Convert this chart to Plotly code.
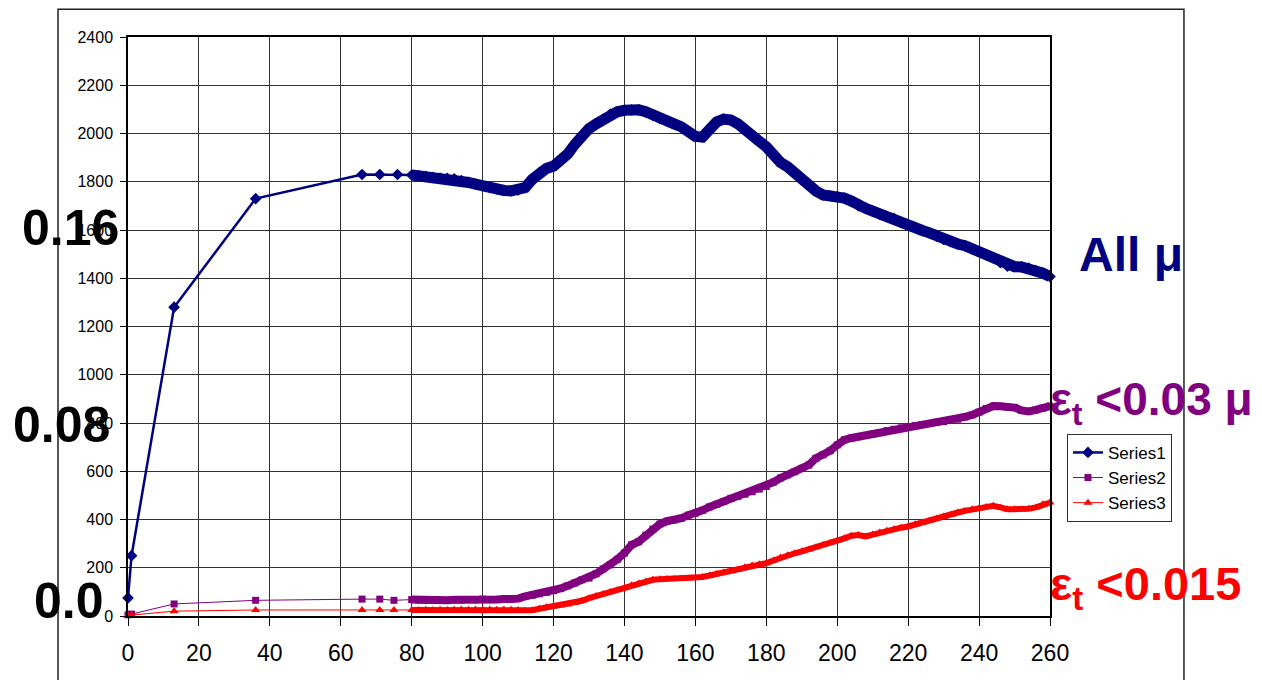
import plotly.graph_objects as go

# ---- data ----
early_x1 = [0, 1, 13, 36, 66, 71, 76]
early_y1 = [75, 250, 1280, 1730, 1830, 1830, 1830]
early_x2 = [0, 1, 13, 36, 66, 71, 75]
early_y2 = [5, 8, 50, 65, 70, 70, 65]
early_x3 = [0, 1, 13, 36, 66, 71, 75]
early_y3 = [0, 4, 20, 25, 25, 25, 25]

dense_x = list(range(80, 261, 2))
dense_y1 = [1828, 1825, 1822, 1818, 1815, 1814, 1812, 1805, 1797, 1790,
            1782, 1776, 1770, 1764, 1762, 1765, 1776, 1810, 1838, 1855,
            1865, 1885, 1915, 1955, 1993, 2020, 2040, 2060, 2080, 2090,
            2096, 2098, 2098, 2090, 2075, 2062, 2052, 2040, 2028, 2008,
            1988, 1985, 2020, 2048, 2060, 2056, 2040, 2020, 1993, 1968,
            1945, 1910, 1880, 1862, 1835, 1807, 1785, 1762, 1745, 1742,
            1738, 1732, 1720, 1700, 1690, 1678, 1665, 1655, 1648, 1632,
            1621, 1610, 1598, 1588, 1574, 1561, 1552, 1542, 1535, 1522,
            1510, 1498, 1484, 1465, 1450, 1448, 1447, 1442, 1432, 1421,
            1407]
dense_y2 = [68, 66, 65, 67, 66, 65, 67, 66, 68, 67,
            70, 68, 68, 70, 69, 72, 81, 86, 92, 98,
            105, 114, 125, 137, 150, 157, 175, 195, 212, 235,
            261, 295, 308, 335, 360, 381, 393, 398, 405, 418,
            426, 438, 452, 463, 475, 488, 496, 505, 515, 526,
            537, 555, 572, 585, 598, 612, 626, 654, 668, 685,
            709, 730, 738, 743, 748, 754, 760, 768, 774, 780,
            785, 789, 794, 798, 803, 806, 811, 816, 825, 833,
            845, 860, 870, 869, 866, 864, 852, 848, 854, 862,
            870]
dense_y3 = [25, 25, 26, 25, 26, 25, 26, 27, 26, 27,
            26, 27, 26, 27, 26, 25, 22, 24, 30, 36,
            40, 44, 48, 55, 63, 74, 83, 91, 100, 108,
            116, 127, 135, 143, 150, 152, 153, 153, 154, 155,
            157, 162, 168, 174, 180, 185, 193, 202, 209, 214,
            219, 230, 242, 252, 260, 268, 276, 285, 294, 303,
            312, 322, 333, 336, 330, 338, 346, 353, 360, 366,
            371, 380, 388, 396, 404, 412, 420, 429, 436, 442,
            447, 452, 457, 450, 443, 443, 443, 445, 450, 463,
            470]

x_ticks = list(range(0, 261, 20))
y_ticks = list(range(0, 2401, 200))
series_names = ["Series1", "Series2", "Series3"]

NAVY = "#000080"
PURPLE = "#800080"
RED = "#FF0000"

fig = go.Figure()

# thick under-bands for the densely sampled part
for ys, col, w in [(dense_y1, NAVY, 11), (dense_y2, PURPLE, 8), (dense_y3, RED, 6)]:
    fig.add_trace(go.Scatter(x=dense_x, y=ys, mode="lines", line=dict(color=col, width=w),
                             showlegend=False, hoverinfo="skip", cliponaxis=False))

specs = [
    (early_x1, early_y1, dense_y1, NAVY, 2.5, "diamond", 9),
    (early_x2, early_y2, dense_y2, PURPLE, 1, "square", 7),
    (early_x3, early_y3, dense_y3, RED, 1, "triangle-up", 8),
]
for name, (ex, ey, dy, col, lw, sym, ms) in zip(series_names, specs):
    fig.add_trace(go.Scatter(
        x=ex + dense_x, y=ey + dy, mode="lines+markers", name=name,
        line=dict(color=col, width=lw),
        marker=dict(symbol=sym, size=ms, color=col, line=dict(width=0)),
        cliponaxis=False))

bold = "Liberation Sans, Arial, sans-serif"
ann = []
for txt, yv, xp in [("0.16", 1608, -0.0629), ("0.08", 790, -0.0716), ("0.0", 63, -0.0640)]:
    ann.append(dict(text=f"<b>{txt}</b>", x=xp, xref="paper",
                    y=yv, yref="y", showarrow=False, xanchor="center", yanchor="middle",
                    font=dict(family=bold, size=50, color="black")))
ann.append(dict(text="<b>All μ</b>", x=1.0295, xref="paper", y=1500, yref="y", showarrow=False,
                xanchor="left", yanchor="middle", font=dict(family=bold, size=48, color=NAVY)))
ann.append(dict(text="<b>ε<sub>t</sub> <0.03 μ</b>", x=259.5, xref="x", y=885, yref="y", showarrow=False,
                xanchor="left", yanchor="middle", font=dict(family=bold, size=46, color=PURPLE)))
ann.append(dict(text="<b>ε<sub>t</sub> <0.015</b>", x=259.5, xref="x", y=120, yref="y", showarrow=False,
                xanchor="left", yanchor="middle", font=dict(family=bold, size=47, color=RED)))

fig.update_layout(
    width=1262, height=680, autosize=False,
    margin=dict(l=128, r=212, t=37, b=64, pad=0),
    paper_bgcolor="white", plot_bgcolor="white",
    font=dict(family="Liberation Sans, Arial, sans-serif", color="black"),
    showlegend=True,
    legend=dict(x=1.0184, y=0.3145, xanchor="left", yanchor="top",
                bgcolor="white", bordercolor="#333333", borderwidth=1,
                font=dict(size=17, family="Liberation Sans, Arial, sans-serif"),
                itemsizing="trace"),
    annotations=ann,
    shapes=[dict(type="rect", xref="paper", yref="paper", x0=-0.0759, x1=1.1453,
                 y0=-0.2, y1=1.0478, line=dict(color="#222222", width=1.5), layer="below")],
)
fig.update_xaxes(range=[0, 260], tickvals=x_ticks, ticktext=[str(v) for v in x_ticks],
                 showgrid=True, gridcolor="#333333", gridwidth=1,
                 showline=True, linecolor="black", linewidth=1.5, mirror=True,
                 ticks="outside", ticklen=8, tickcolor="black",
                 tickfont=dict(size=23), zeroline=False, ticklabelstandoff=8)
fig.update_yaxes(range=[0, 2400], tickvals=y_ticks, ticktext=[str(v) for v in y_ticks],
                 showgrid=True, gridcolor="#333333", gridwidth=1,
                 showline=True, linecolor="black", linewidth=1.5, mirror=True,
                 ticks="outside", ticklen=6, tickcolor="black",
                 tickfont=dict(size=16), zeroline=False, ticklabelstandoff=4)

fig.write_html("out.html", config={"displayModeBar": False},
               post_script="document.body.style.margin='0';document.body.style.overflow='hidden';")
